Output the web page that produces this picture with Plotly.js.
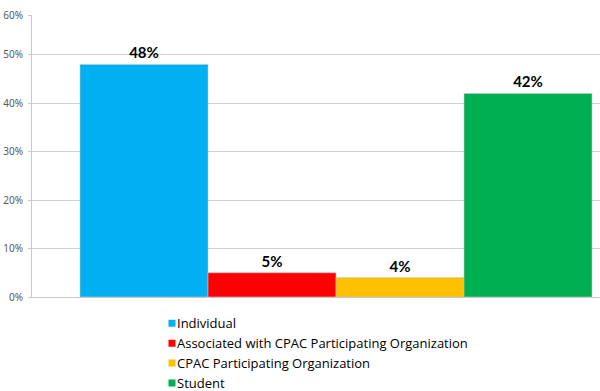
<!DOCTYPE html>
<html><head><meta charset="utf-8">
<script src="https://cdn.plot.ly/plotly-3.0.1.min.js"></script>
<style>html,body{margin:0;padding:0;background:#fff}</style>
</head><body><div id="chart" style="width:600px;height:391px"></div>
<script>
const categories = ["Individual", "Associated with CPAC Participating Organization", "CPAC Participating Organization", "Student"];
const values = [48, 5, 4, 42];
const colors = ["#00B0F0", "#FF0000", "#FFC000", "#00B050"];
const tickValues = [0, 10, 20, 30, 40, 50, 58.2];
const tickLabels = ["0%", "10%", "20%", "30%", "40%", "50%", "60%"];

const bars = categories.map((c, i) => ({
  type: "bar",
  name: c,
  x: [i],
  y: [values[i]],
  width: 1,
  marker: {color: colors[i], line: {color: "#c8c8c8", width: 0.6}},
  text: [values[i] + "%"],
  textposition: "outside",
  textfont: {family: "Lato, 'Open Sans', sans-serif", size: 15, color: "#000", weight: "bold"},
  cliponaxis: false,
  showlegend: false,
  hoverinfo: "none"
}));
const legendItems = categories.map((c, i) => ({
  type: "scatter", mode: "markers", name: c,
  x: [null], y: [null],
  marker: {symbol: "square", size: 7, color: colors[i]},
  showlegend: true, hoverinfo: "none"
}));

const layout = {
  width: 600, height: 391,
  margin: {l: 32, r: 0, t: 15, b: 94, pad: 0, autoexpand: false},
  paper_bgcolor: "#fff", plot_bgcolor: "#fff",
  showlegend: true,
  barmode: "group",
  font: {family: "Lato, 'Open Sans', sans-serif", color: "#000"},
  xaxis: {range: [-0.875, 3.5625], showticklabels: false, showgrid: false, zeroline: false,
          showline: true, linecolor: "#c8c8c8", linewidth: 1, ticks: ""},
  yaxis: {range: [0, 58.2], tickmode: "array", tickvals: tickValues, ticktext: tickLabels,
          showgrid: true, gridcolor: "#d0d0d0", gridwidth: 1, zeroline: false,
          showline: true, linecolor: "#c8c8c8", linewidth: 1,
          ticks: "outside", ticklen: 3, tickcolor: "#c8c8c8", ticklabelstandoff: 3,
          tickfont: {size: 10, color: "#595959", family: "'Noto Sans', sans-serif"}},
  legend: {orientation: "v", x: (137 - 32) / 568, xanchor: "left", y: -0.04, yanchor: "top",
           font: {size: 13, color: "#000", family: "'Open Sans', sans-serif"}, tracegroupgap: 0, itemwidth: 30,
           bgcolor: "rgba(0,0,0,0)"}
};
Plotly.newPlot("chart", [...bars, ...legendItems], layout, {displayModeBar: false, staticPlot: true}).then(gd => {
  gd.querySelectorAll(".legend .legendsymbols").forEach(s => s.setAttribute("transform", "translate(15,0)"));
});
</script></body></html>
